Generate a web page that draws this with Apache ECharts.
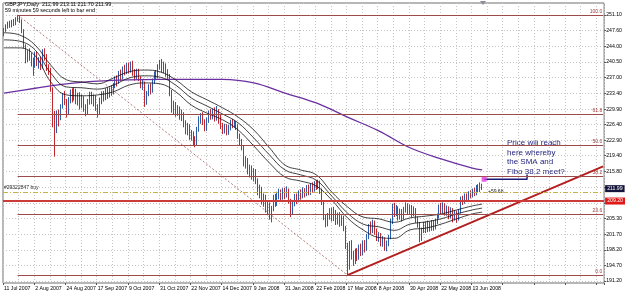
<!DOCTYPE html>
<html><head><meta charset="utf-8">
<script src="https://cdn.jsdelivr.net/npm/echarts@6/dist/echarts.min.js"></script>
<style>html,body{margin:0;padding:0;background:#fff}#c{width:625px;height:294px}</style>
</head><body><div id="c"></div>
<script>
// ---- data ----
const slotCount = 308;
const dateLabels = ['11 Jul 2007','2 Aug 2007','24 Aug 2007','17 Sep 2007','9 Oct 2007','31 Oct 2007','22 Nov 2007','14 Dec 2007','9 Jan 2008','31 Jan 2008','22 Feb 2008','17 Mar 2008','8 Apr 2008','30 Apr 2008','22 May 2008','13 Jun 2008'];
const priceTicks = [251.10,247.60,244.00,240.50,237.00,233.40,229.90,226.40,222.90,219.40,215.80,212.30,208.80,205.30,201.70,198.20,194.70,191.20];
const priceLabels = [251.10,247.60,244.00,240.50,237.00,233.40,229.90,226.40,222.90,219.40,215.80,205.30,201.70,198.20,194.70,191.20];
// [open, close, low, high]
const candles = [
[246.8,247.8,246.3,248.2],[247.8,248.6,247.3,249.0],[248.6,249.2,248.0,249.6],[249.2,248.7,248.2,249.8],
[248.7,249.6,248.3,250.0],[249.6,249.0,248.6,250.2],[249.0,250.2,248.8,250.6],[250.2,250.5,249.6,251.1],
[250.5,249.8,249.3,250.9],[249.8,247.5,247.0,250.1],[247.5,244.0,243.6,247.9],[244.0,241.0,240.2,244.5],
[241.0,242.6,240.5,243.2],[242.6,242.0,240.8,243.6],[242.0,240.8,239.5,242.6],[240.8,239.8,237.4,241.5],
[239.8,242.2,239.2,242.8],[242.2,240.3,239.6,242.8],[240.3,240.9,239.0,241.6],[240.9,239.4,238.7,241.7],
[239.4,242.8,239.0,243.4],[242.8,241.8,240.8,243.6],[241.8,239.3,238.5,242.3],[239.3,238.6,237.6,240.0],
[238.6,234.3,233.8,239.2],[234.3,226.5,225.8,234.8],[226.5,225.2,219.2,229.5],[225.2,228.8,224.5,229.6],
[228.8,228.0,226.0,229.8],[228.0,230.5,227.4,231.0],[230.5,232.8,230.0,233.5],[232.8,231.5,230.8,234.0],
[231.5,229.0,228.0,232.2],[229.0,232.0,228.6,232.6],[232.0,233.5,231.2,234.3],[233.5,232.5,231.4,234.6],
[232.5,233.8,231.8,234.8],[233.8,231.9,231.0,234.5],[231.9,232.9,230.7,233.6],[232.9,231.0,229.8,233.7],
[231.0,232.2,230.2,233.2],[232.2,230.0,229.3,232.8],[230.0,229.2,228.3,231.0],[229.2,231.6,228.8,232.2],
[231.6,233.0,230.9,233.8],[233.0,231.7,231.0,233.8],[231.7,232.4,230.5,233.2],[232.4,230.0,229.5,233.0],
[230.0,229.0,228.0,231.0],[229.0,231.8,228.6,232.5],[231.8,233.2,231.0,233.9],[233.2,232.4,231.6,234.0],
[232.4,233.9,231.9,234.6],[233.9,233.0,232.2,234.8],[233.0,234.4,232.5,235.1],[234.4,233.7,232.9,235.3],
[233.7,235.2,233.2,235.8],[235.2,236.8,234.6,237.3],[236.8,236.0,235.0,237.5],[236.0,237.9,235.6,238.5],
[237.9,237.0,236.2,238.8],[237.0,238.9,236.6,239.5],[238.9,238.3,237.5,239.9],[238.3,239.6,237.8,240.3],
[239.6,238.6,237.9,240.4],[238.6,239.9,238.1,240.6],[239.9,238.2,237.4,240.8],[238.2,237.0,236.3,238.9],
[237.0,238.4,236.6,239.0],[238.4,236.9,236.2,239.0],[236.9,235.3,234.6,237.3],[235.3,235.8,234.2,236.5],
[235.8,231.5,230.4,236.1],[231.5,233.4,230.9,234.0],[233.4,234.9,232.8,235.5],[234.9,234.0,233.2,235.7],
[234.0,236.2,233.6,236.8],[236.2,237.9,235.6,238.4],[237.9,237.2,236.4,238.7],[237.2,239.4,236.8,240.0],
[239.4,240.3,238.8,241.0],[240.3,239.0,238.2,241.2],[239.0,239.8,238.0,240.6],[239.8,238.0,237.2,240.2],
[238.0,237.3,236.5,238.9],[237.3,233.6,232.8,237.8],[233.6,230.0,229.1,234.2],[230.0,230.9,228.8,231.8],
[230.9,229.2,228.2,231.5],[229.2,229.9,228.4,230.8],[229.9,228.3,227.5,230.5],[228.3,228.9,227.2,229.8],
[228.9,226.6,225.8,229.2],[226.6,225.0,224.2,227.4],[225.0,226.1,224.0,226.8],[226.1,223.8,223.0,226.5],
[223.8,224.3,222.8,225.2],[224.3,222.6,221.8,224.9],[222.6,222.3,221.3,223.8],[222.3,225.3,221.8,225.9],
[225.3,227.6,224.8,228.3],[227.6,228.4,226.6,229.0],[228.4,227.0,226.3,229.2],[227.0,225.6,224.9,227.6],
[225.6,227.4,225.0,228.0],[227.4,229.0,226.8,229.6],[229.0,228.2,227.5,229.9],[228.2,229.3,227.6,230.0],
[229.3,227.9,227.1,230.3],[227.9,229.4,227.3,230.6],[229.4,228.0,226.6,229.9],[228.0,226.1,225.4,228.6],
[226.1,225.1,224.3,226.8],[225.1,226.0,224.4,226.6],[226.0,224.8,224.0,226.5],[224.8,225.7,224.1,226.3],
[225.7,226.9,225.1,227.5],[226.9,226.3,225.6,227.7],[226.3,226.8,225.7,227.4],[226.8,226.0,225.2,227.2],
[226.0,223.8,223.2,226.5],[223.8,222.4,221.6,224.4],[222.4,221.3,220.6,223.2],[221.3,217.8,217.0,221.8],
[217.8,218.4,216.5,219.3],[218.4,216.0,215.2,218.9],[216.0,216.6,214.5,217.4],[216.6,214.8,214.0,217.2],
[214.8,215.9,213.6,216.6],[215.9,213.8,213.0,216.4],[213.8,211.2,210.5,214.3],[211.2,212.0,209.8,212.9],
[212.0,209.2,208.4,212.4],[209.2,210.0,207.9,210.9],[210.0,207.5,206.6,210.6],[207.5,208.3,206.0,209.1],
[208.3,206.0,205.0,208.9],[206.0,207.6,204.4,208.1],[207.6,209.9,206.9,210.6],[209.9,208.6,207.9,210.8],
[208.6,210.6,208.1,211.3],[210.6,211.2,209.6,212.0],[211.2,210.1,209.2,211.8],[210.1,211.5,209.5,212.1],
[211.5,210.6,209.6,212.2],[210.6,211.8,210.0,212.5],[211.8,209.3,208.6,212.0],[209.3,206.8,205.6,209.7],
[206.8,208.6,206.2,209.3],[208.6,210.2,208.0,210.8],[210.2,209.4,208.5,210.9],[209.4,211.0,208.9,211.6],
[211.0,210.3,209.5,211.8],[210.3,211.6,209.8,212.3],[211.6,210.8,210.0,212.1],[210.8,212.2,210.3,212.8],
[212.2,211.1,210.5,212.9],[211.1,212.6,210.6,213.2],[212.6,211.9,211.1,213.4],[211.9,213.1,211.3,213.7],
[213.1,212.4,211.7,213.9],[212.4,213.3,211.9,214.0],[213.3,211.5,210.8,213.8],[211.5,209.0,208.3,212.0],
[209.0,205.6,204.9,209.4],[205.6,204.0,203.3,206.2],[204.0,205.8,203.5,206.5],[205.8,206.9,205.0,207.6],
[206.9,205.4,204.6,207.7],[205.4,206.6,204.7,207.9],[206.6,204.6,203.8,207.2],[204.6,205.9,203.9,206.6],
[205.9,204.3,203.4,206.7],[204.3,205.4,203.6,206.0],[205.4,203.2,202.4,205.9],[203.2,199.2,198.4,203.6],
[199.2,195.8,192.5,199.8],[195.8,199.4,193.7,200.2],[199.4,197.0,196.0,200.4],[197.0,195.6,194.6,198.0],
[195.6,197.8,195.0,198.5],[197.8,196.6,195.7,198.6],[196.6,198.8,196.0,199.4],[198.8,197.6,196.8,199.6],
[197.6,199.6,197.0,200.3],[199.6,198.4,197.6,200.4],[198.4,201.2,198.0,201.8],[201.2,203.4,200.6,204.0],
[203.4,202.6,201.8,204.6],[202.6,204.3,202.0,205.0],[204.3,202.4,201.6,204.8],[202.4,201.0,200.2,203.0],
[201.0,201.6,200.0,202.2],[201.6,199.8,199.0,202.0],[199.8,200.6,198.9,201.3],[200.6,198.9,198.0,201.0],
[198.9,199.6,197.9,200.3],[199.6,201.0,199.0,201.6],[201.0,204.6,200.6,205.2],[204.6,207.9,204.0,208.6],
[207.9,206.4,205.6,208.8],[206.4,207.5,205.8,208.3],[207.5,205.6,204.8,208.0],[205.6,206.9,205.0,207.5],
[206.9,205.4,204.6,207.4],[205.4,207.2,205.0,207.9],[207.2,208.2,206.6,208.9],[208.2,206.9,206.1,208.7],
[206.9,207.8,206.3,208.4],[207.8,206.4,205.6,208.3],[206.4,207.3,205.8,208.0],[207.3,205.1,204.3,207.6],
[205.1,204.0,203.2,205.7],[204.0,200.8,199.9,204.5],[200.8,202.6,200.2,203.2],[202.6,203.8,202.0,204.5],
[203.8,202.8,202.0,204.6],[202.8,204.0,202.2,204.8],[204.0,203.0,202.3,204.6],[203.0,204.3,202.5,204.9],
[204.3,203.2,202.5,204.9],[203.2,204.6,202.8,205.2],[204.6,205.9,204.0,206.4],[205.9,207.8,205.3,208.4],
[207.8,207.0,206.3,208.8],[207.0,208.3,206.5,208.9],[208.3,206.6,205.9,208.7],[206.6,207.6,205.9,208.2],
[207.6,206.0,205.1,208.0],[206.0,207.2,205.3,207.8],[207.2,205.6,204.4,207.6],[205.6,206.6,204.8,207.1],
[206.6,205.2,204.3,207.0],[205.2,206.9,204.8,207.4],[206.9,209.6,206.4,210.2],[209.6,209.0,208.3,210.4],
[209.0,210.4,208.6,210.9],[210.4,209.8,209.1,210.9],[209.8,210.9,209.3,211.4],[210.9,210.4,209.8,211.6],
[210.4,211.5,210.0,212.0],[211.5,210.9,210.3,212.2],[210.9,212.2,210.5,212.8],[212.2,211.6,211.0,213.0],
[211.6,212.99,211.2,213.4],[212.99,211.99,211.70,213.11]
];
const envIdx   = [0,8,16,24,32,40,48,56,64,72,80,88,96,104,112,120,128,136,144,152,160,168,176,184,192,200,208,216,224,232,240,245];
const envUpper = [247.1,246.6,244.3,239.8,236.5,236.0,235.6,236.9,238.3,238.7,238.3,236.5,233.8,232.0,230.2,228.1,225.2,221.2,217.3,216.2,215.1,211.2,207.9,205.6,205.2,204.4,205.4,205.8,206.3,207.2,208.1,208.5];
const envMid   = [245.5,245.2,243.2,238.0,234.9,234.7,234.4,235.3,236.9,237.4,237.1,235.3,232.4,230.6,228.8,226.8,223.4,219.6,216.2,215.1,213.9,210.3,206.5,204.0,203.4,202.6,204.0,204.5,205.2,206.3,207.2,207.6];
const envLower = [243.7,243.7,241.9,236.0,233.1,232.9,233.1,233.8,235.3,235.8,235.6,233.8,230.8,229.0,227.5,225.2,221.6,217.8,214.6,213.7,212.6,209.4,205.4,202.7,201.0,200.8,202.7,203.1,204.0,205.2,206.3,206.7];
const smaIdx = [0,16,32,48,64,80,96,112,128,144,160,176,192,208,224,240,245];
const smaVal = [233.5,234.6,235.6,236.2,236.5,236.6,236.6,236.6,235.8,233.5,231.3,228.1,225.0,221.2,218.7,216.6,216.2];
const fibNames  = ['100.0','61.8','50.0','38.2','23.6','0.0'];
const fibPrices = [251.10,228.71,221.80,214.89,206.33,192.50];
const fibStart = 7, lastSlot = 307;
const redLevel = 209.20, lastPrice = 211.99, orderPrice = 211.10;
const trendLine = [[176,192.5],[307,217.0]];
const fibDiagonal = [[7,251.1],[176,192.5]];
const targetPoint = [[246,214.1]];
const connector = [[246,214.1],[268,214.1],[268,215.2]];

// ---- chart ----
const FONT = 'Liberation Sans, Arial, sans-serif';
const cats = Array.from({length: slotCount}, (_, i) => String(i));
const pairs = (idx, vals) => idx.map((x, k) => [x, vals[k]]);
const fibMarks = fibPrices.map((p, k) => [
  {coord: [fibStart, p], label: {show: true, position: 'insideEndTop', formatter: fibNames[k], color: '#a03c3c', fontSize: 5, fontFamily: FONT, distance: 1}},
  {coord: [lastSlot, p]}
]);
const chart = echarts.init(document.getElementById('c'), null, {renderer: 'canvas'});
chart.setOption({
  animation: false,
  backgroundColor: '#ffffff',
  grid: {left: 3, right: 20, top: 3, bottom: 11, show: true, borderColor: '#6e6e6e', borderWidth: 1, backgroundColor: '#fff'},
  xAxis: {
    type: 'category', data: cats, boundaryGap: true,
    axisLine: {show: false},
    axisTick: {show: true, interval: 15, length: 2, lineStyle: {color: '#555'}},
    axisLabel: {interval: 15, align: 'left', margin: 3, fontSize: 5.2, fontFamily: FONT, color: '#000',
      formatter: (v, i) => (i % 16 === 0 && dateLabels[i / 16]) ? dateLabels[i / 16] : ''},
    splitLine: {show: true, interval: 7, lineStyle: {color: '#c4c4c4', type: [1, 2], width: 1}}
  },
  yAxis: {
    type: 'value', position: 'right', min: 190.74, max: 253.8, scale: true,
    axisLine: {show: false},
    axisTick: {show: true, length: 2, customValues: priceTicks, lineStyle: {color: '#555'}},
    axisLabel: {customValues: priceLabels, margin: 2, fontSize: 5.2, fontFamily: FONT, color: '#000', formatter: v => v.toFixed(2)},
    splitLine: {show: true, lineStyle: {color: '#c4c4c4', type: [1, 2], width: 1}}
  },
  series: [
    {
      type: 'candlestick', data: candles, barWidth: 1.3,
      itemStyle: {color: '#2b5caa', color0: '#c0262b', borderColor: '#2b5caa', borderColor0: '#c0262b', borderWidth: 1},
      markLine: {
        silent: true, symbol: ['none', 'none'], animation: false,
        data: [
          {yAxis: orderPrice, lineStyle: {color: '#c8b04a', type: [5, 2, 1, 2], width: 1}, label: {show: false}},
          {yAxis: redLevel, lineStyle: {color: '#cc3a3a', type: 'solid', width: 2},
            label: {show: true, position: 'end', distance: 1, formatter: '209.20', color: '#fff', backgroundColor: '#e01818', padding: [1, 2, 1, 2], fontSize: 5.2, fontFamily: FONT}}
        ].concat(fibMarks),
        lineStyle: {color: '#9c4a4a', type: 'solid', width: 1}
      }
    },
    {type: 'line', data: pairs(smaIdx, smaVal), showSymbol: false, smooth: 0.4, lineStyle: {color: '#6b2fa0', width: 1.3}, z: 3,
      markLine: {
        silent: true, symbol: ['none', 'none'], animation: false,
        data: [{yAxis: lastPrice, lineStyle: {width: 0, color: 'rgba(0,0,0,0)'},
          label: {show: true, position: 'end', distance: 1, formatter: '211.99', color: '#fff', backgroundColor: '#14143c', padding: [1, 2, 1, 2], fontSize: 5.2, fontFamily: FONT}}]
      }},
    {type: 'line', data: pairs(envIdx, envUpper), showSymbol: false, smooth: 0.4, lineStyle: {color: '#111', width: 0.8}, z: 3},
    {type: 'line', data: pairs(envIdx, envMid), showSymbol: false, smooth: 0.4, lineStyle: {color: '#111', width: 0.8}, z: 3},
    {type: 'line', data: pairs(envIdx, envLower), showSymbol: false, smooth: 0.4, lineStyle: {color: '#111', width: 0.8}, z: 3},
    {type: 'line', data: fibDiagonal, showSymbol: false, lineStyle: {color: '#b47a7a', width: 1, type: [2, 2]}, z: 3},
    {type: 'line', data: trendLine, showSymbol: false, lineStyle: {color: '#b41e1e', width: 2}, z: 4},
    {type: 'line', data: connector, showSymbol: false, lineStyle: {color: '#1c1c7a', width: 1.5}, z: 4},
    {type: 'scatter', data: targetPoint, symbol: 'rect', symbolSize: 5, itemStyle: {color: '#e23ce2'}, z: 5}
  ],
  graphic: [
    {type: 'text', left: 5, top: 2, style: {text: 'GBPJPY,Daily  212.99 213.11 211.70 211.99', fontSize: 5.4, fontFamily: FONT, fill: '#000'}},
    {type: 'text', left: 5, top: 8.5, style: {text: '59 minutes 59 seconds left to bar end', fontSize: 5.4, fontFamily: FONT, fill: '#000'}},
    {type: 'text', left: 4, top: 185, style: {text: '#29322847 buy', fontSize: 5, fontFamily: FONT, fill: '#222'}},
    {type: 'text', left: 488, top: 189, style: {text: '+59.68', fontSize: 5, fontFamily: FONT, fill: '#222'}},
    {type: 'text', left: 507, top: 138, style: {text: 'Price will reach\nhere whereby\nthe SMA and\nFibo 38.2 meet?', fontSize: 8, lineHeight: 9.6, fontFamily: FONT, fill: '#1c1c7a'}},
    {type: 'polygon', shape: {points: [[480, 1], [486, 1], [483, 5]]}, style: {fill: '#8c8ca0'}}
  ]
});
</script></body></html>
